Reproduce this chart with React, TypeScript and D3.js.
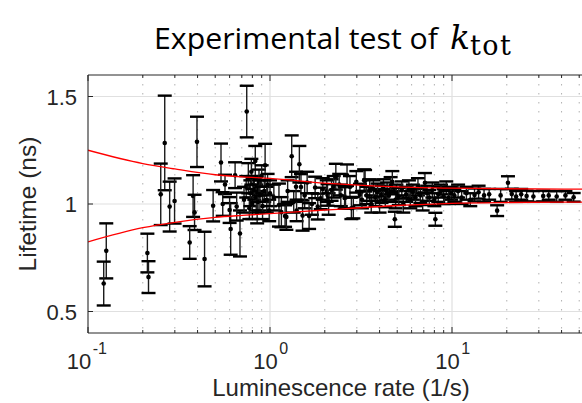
import React from 'react';
import * as d3 from 'd3';

// ---- data ----
const rate: number[] = [
  0.126, 0.122, 0.212, 0.215, 0.264, 0.251, 0.281, 0.299, 0.397, 0.378, 0.385, 0.362, 0.437, 0.487,
  0.538, 0.566, 0.643, 0.55, 0.608, 0.684, 0.6, 0.656, 0.745,
  0.72, 0.74, 0.76, 0.77, 0.78, 0.79, 0.8, 0.81, 0.82, 0.83, 0.84, 0.85, 0.86, 0.87, 0.88, 0.9, 0.91, 0.93, 0.94, 0.96, 0.97, 0.99, 1.0,
  1.05, 1.12, 1.155, 1.21, 1.23, 1.25, 1.316, 1.35, 1.39, 1.4, 1.45, 1.48, 1.51, 1.55, 1.6, 1.64, 1.7, 1.77, 1.83, 1.9, 1.95,
  2.05, 2.07, 2.1, 2.18, 2.24, 2.3, 2.4, 2.45, 2.57, 2.6, 2.65, 2.75, 2.8, 2.87, 2.98,
  3.12, 3.2, 3.29, 3.33, 3.4, 3.53, 3.6, 3.7, 3.8, 3.9, 4.0, 4.1, 4.2, 4.3, 4.4, 4.5, 4.6, 4.7, 4.85, 4.9, 4.95,
  5.1, 5.3, 5.4, 5.6, 5.8, 5.9, 6.1, 6.3, 6.5, 6.7, 6.9, 7.1, 7.3, 7.5, 7.8, 8.0, 8.1, 8.4, 8.7, 9.0, 9.3, 9.6, 9.9,
  10.3, 10.8, 11.3, 12.0, 12.6, 13.3, 14.0, 15.0, 16.0, 17.7, 18.5, 20.3, 21.3, 22.5, 24.0, 25.7, 28.0, 31.7, 34.0, 37.6, 42.0, 46.6,
];
const lifetime: number[] = [
  0.782, 0.63, 0.772, 0.66, 1.284, 1.045, 0.988, 1.014, 1.289, 1.037, 0.961, 0.821, 0.744, 0.992,
  1.193, 1.091, 1.134, 1.0, 0.884, 0.863, 0.972, 0.988, 1.43,
  1.02, 1.08, 1.12, 0.98, 1.05, 1.15, 1.0, 1.09, 1.07, 1.2, 1.03, 0.96, 1.01, 1.1, 1.04, 1.13, 0.99, 1.06, 1.18, 1.02, 1.09, 0.97, 1.05,
  1.03, 0.995, 0.962, 0.944, 0.94, 1.06, 1.222, 1.01, 1.08, 0.97, 1.185, 1.079, 0.946, 1.04, 1.1, 0.944, 1.0, 1.077, 0.988, 1.026, 1.07,
  1.06, 1.042, 1.0, 1.065, 1.08, 1.127, 1.09, 1.04, 1.028, 1.03, 1.134, 1.08, 0.98, 0.983, 1.103,
  1.044, 1.02, 1.111, 1.108, 1.04, 1.065, 1.0, 1.07, 1.03, 1.055, 1.01, 1.045, 1.075, 1.025, 1.06, 1.04, 1.085, 1.103, 0.929, 1.02, 1.05,
  1.035, 1.065, 1.0, 1.045, 1.07, 1.02, 1.055, 1.03, 1.08, 1.04, 1.01, 1.099, 1.05, 1.03, 1.065, 1.02, 0.929, 1.045, 1.06, 1.035, 1.075, 1.03, 1.05,
  1.04, 1.06, 1.03, 1.05, 1.02, 1.042, 1.055, 1.04, 1.045, 0.969, 1.04, 1.099, 1.046, 1.035, 1.045, 1.037, 1.035, 1.037, 1.04, 1.035, 1.04, 1.031,
];
const errs: number[] = [
  0.128, 0.102, 0.09, 0.074, 0.22, 0.143, 0.116, 0.105, 0.117, 0.097, 0.082, 0.076, 0.127, 0.073,
  0.088, 0.045, 0.06, 0.055, 0.12, 0.107, 0.06, 0.065, 0.12,
  0.06, 0.05, 0.07, 0.05, 0.06, 0.06, 0.07, 0.04, 0.05, 0.07, 0.06, 0.05, 0.05, 0.06, 0.07, 0.05, 0.06, 0.05, 0.1, 0.06, 0.05, 0.05, 0.06,
  0.06, 0.1, 0.07, 0.05, 0.06, 0.05, 0.097, 0.05, 0.07, 0.05, 0.085, 0.06, 0.07, 0.06, 0.05, 0.06, 0.05, 0.05, 0.06, 0.05, 0.05,
  0.05, 0.05, 0.05, 0.05, 0.05, 0.06, 0.05, 0.05, 0.05, 0.05, 0.05, 0.05, 0.05, 0.05, 0.05,
  0.05, 0.04, 0.05, 0.05, 0.04, 0.05, 0.04, 0.04, 0.04, 0.04, 0.05, 0.04, 0.04, 0.04, 0.04, 0.03, 0.04, 0.05, 0.035, 0.04, 0.04,
  0.04, 0.04, 0.04, 0.035, 0.04, 0.04, 0.035, 0.04, 0.04, 0.035, 0.04, 0.045, 0.035, 0.035, 0.035, 0.03, 0.03, 0.035, 0.03, 0.035, 0.03, 0.03, 0.03,
  0.03, 0.03, 0.03, 0.03, 0.03, 0.03, 0.03, 0.03, 0.025, 0.025, 0.03, 0.03, 0.025, 0.025, 0.025, 0.025, 0.025, 0.025, 0.02, 0.025, 0.02, 0.02,
];

const fitRate: number[] = [0.1, 0.2, 0.3, 0.5, 0.7, 1, 2, 5, 10, 20, 50, 100];
const upperBound: number[] = [1.25, 1.188, 1.163, 1.136, 1.126, 1.119, 1.097, 1.08, 1.074, 1.071, 1.069, 1.068];
const lowerBound: number[] = [0.824, 0.89, 0.915, 0.938, 0.947, 0.955, 0.972, 0.993, 1.003, 1.007, 1.009, 1.01];

const yTicks: number[] = [0.5, 1, 1.5];
const xMajor: number[] = [0.1, 1, 10, 100];
const xLabelTicks: number[] = [0.1, 1, 10];
const xExponents: string[] = ['-1', '0', '1'];

const W = 582;
const H = 403;
const left = 88;
const top = 75;
const bottom = 333;

export default function App() {
  const x = d3.scaleLog().domain([0.1, 100]).range([left, left + 3 * 182]);
  const y = d3.scaleLinear().domain([0.4, 1.6]).range([bottom, top]);
  const right = x(100);

  const minor: number[] = [];
  [0.1, 1, 10].forEach((d) => {
    for (let k = 2; k <= 9; k++) minor.push(d * k);
  });

  const line = d3
    .line<number>()
    .x((_, i) => x(fitRate[i]))
    .y((d) => y(d))
    .curve(d3.curveMonotoneX);

  const axisColor = '#262626';
  const font = '"Liberation Sans", Arial, Helvetica, sans-serif';
  const baseW = 24.5; // width of "10" at 22px
  const supSize = 16;
  const serif = '"DejaVu Serif", "Liberation Serif", serif';

  return (
    <svg
      width={W}
      height={H}
      style={{ position: 'absolute', left: 0, top: 0, background: '#fff' }}
      xmlns="http://www.w3.org/2000/svg"
    >
      <defs>
        <clipPath id="plotClip">
          <rect x={left} y={top} width={right - left} height={bottom - top} />
        </clipPath>
      </defs>
      <rect x={0} y={0} width={W} height={H} fill="#fff" />

      {/* minor grid */}
      {minor.map((v) => (
        <line
          key={'mg' + v}
          x1={x(v)}
          x2={x(v)}
          y1={top}
          y2={bottom}
          stroke="#b0b0b0"
          strokeWidth={1}
          strokeDasharray="1.5,7.5"
        />
      ))}
      {/* major grid */}
      {xMajor.map((v) => (
        <line key={'gx' + v} x1={x(v)} x2={x(v)} y1={top} y2={bottom} stroke="#e0e0e0" strokeWidth={1.2} />
      ))}
      {yTicks.map((v) => (
        <line key={'gy' + v} x1={left} x2={right} y1={y(v)} y2={y(v)} stroke="#e0e0e0" strokeWidth={1.2} />
      ))}

      {/* error bars */}
      <g clipPath="url(#plotClip)">
        {rate.map((r, i) => {
          const cx = x(r);
          const y0 = y(lifetime[i] - errs[i]);
          const y1 = y(lifetime[i] + errs[i]);
          return (
            <g key={'e' + i}>
              <line x1={cx} x2={cx} y1={y0} y2={y1} stroke="#1a1a1a" strokeWidth={1.4} />
              <line x1={cx - 7} x2={cx + 7} y1={y0} y2={y0} stroke="#000" strokeWidth={2.4} />
              <line x1={cx - 7} x2={cx + 7} y1={y1} y2={y1} stroke="#000" strokeWidth={2.4} />
              <circle cx={cx} cy={y(lifetime[i])} r={2.3} fill="#000" />
            </g>
          );
        })}
        <path d={line(upperBound) || ''} fill="none" stroke="#ff0000" strokeWidth={1.3} />
        <path d={line(lowerBound) || ''} fill="none" stroke="#ff0000" strokeWidth={1.3} />
      </g>

      {/* axes box */}
      <line x1={left} x2={right} y1={top} y2={top} stroke={axisColor} strokeWidth={1} />
      <line x1={left} x2={right} y1={bottom} y2={bottom} stroke={axisColor} strokeWidth={1} />
      <line x1={left} x2={left} y1={top} y2={bottom} stroke={axisColor} strokeWidth={1} />

      {/* x ticks */}
      {xMajor.map((v) => (
        <g key={'xt' + v}>
          <line x1={x(v)} x2={x(v)} y1={bottom} y2={bottom - 6} stroke={axisColor} strokeWidth={1} />
          <line x1={x(v)} x2={x(v)} y1={top} y2={top + 6} stroke={axisColor} strokeWidth={1} />
        </g>
      ))}
      {minor.map((v) => (
        <g key={'xm' + v}>
          <line x1={x(v)} x2={x(v)} y1={bottom} y2={bottom - 3} stroke={axisColor} strokeWidth={1} />
          <line x1={x(v)} x2={x(v)} y1={top} y2={top + 3} stroke={axisColor} strokeWidth={1} />
        </g>
      ))}
      {/* y ticks */}
      {yTicks.map((v) => (
        <line key={'yt' + v} x1={left} x2={left + 5} y1={y(v)} y2={y(v)} stroke={axisColor} strokeWidth={1} />
      ))}

      {/* tick labels */}
      {yTicks.map((v) => (
        <text
          key={'yl' + v}
          x={77}
          y={y(v) + 8}
          textAnchor="end"
          fontFamily={font}
          fontSize={22}
          fill={axisColor}
        >
          {String(v)}
        </text>
      ))}
      {xLabelTicks.map((v, i) => {
        const supW = xExponents[i].length * 0.56 * supSize;
        const start = x(v) - (baseW + supW) / 2;
        return (
          <g key={'xl' + v}>
            <text x={start} y={369} fontFamily={font} fontSize={22} fill={axisColor}>
              10
            </text>
            <text x={start + baseW + 1.5} y={354} fontFamily={font} fontSize={supSize} fill={axisColor}>
              {xExponents[i]}
            </text>
          </g>
        );
      })}

      {/* axis labels */}
      <text x={341} y={396} textAnchor="middle" fontFamily={font} fontSize={24} fill={axisColor}>
        Luminescence rate (1/s)
      </text>
      <text
        transform={`translate(36, ${(top + bottom) / 2}) rotate(-90)`}
        textAnchor="middle"
        fontFamily={font}
        fontSize={24.5}
        fill={axisColor}
      >
        Lifetime (ns)
      </text>

      {/* title */}
      <text
        x={154}
        y={49}
        fontFamily='"Open Sans", "Noto Sans", sans-serif'
        fontSize={29.5}
        fill="#000"
        textLength={284}
        lengthAdjust="spacingAndGlyphs"
      >
        Experimental test of
      </text>
      <text x={450} y={49} fontFamily={serif} fontStyle="italic" fontSize={33} fill="#000">
        k
      </text>
      <text x={470} y={55} fontFamily={serif} fontSize={27} fill="#000" letterSpacing={1.5}>
        tot
      </text>
    </svg>
  );
}
